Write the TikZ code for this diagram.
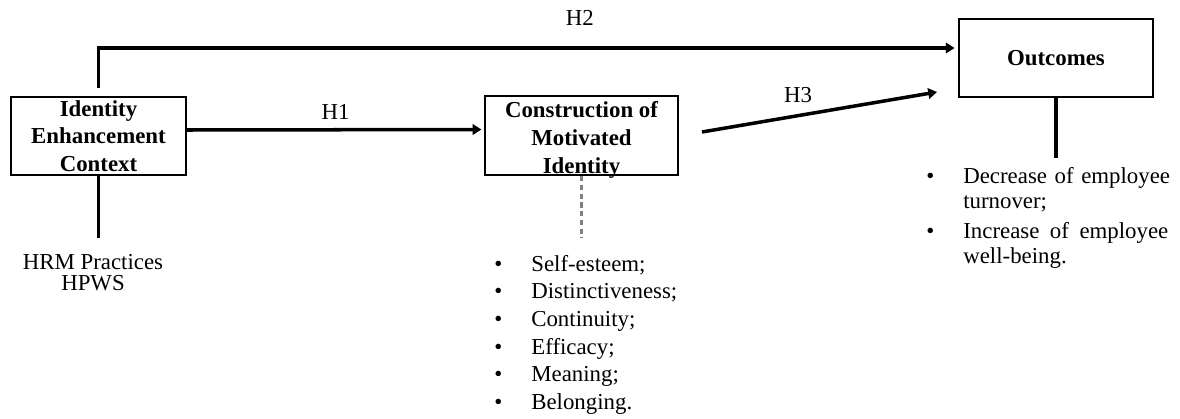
\documentclass[tikz,border=0pt]{standalone}
\usepackage{fontspec}
\setmainfont{Liberation Serif}
\usepackage{tikz}
\usetikzlibrary{arrows.meta,positioning}

\begin{document}
\begin{tikzpicture}[x=0.02cm,y=-0.02cm,
    box/.style={draw,line width=1.1pt,align=center,inner sep=0pt,
      font=\fontsize{13}{15.8}\selectfont\bfseries},
    lbl/.style={font=\fontsize{13}{15}\selectfont,inner sep=0pt},
    lst/.style={font=\fontsize{13}{15.7}\selectfont,align=left,inner xsep=0pt},
    arr/.style={line width=2pt,-{Triangle[length=5pt,width=6pt]}},
    ln/.style={line width=2pt}]
 \useasboundingbox (0,0) rectangle (1180,419);
 % the three boxes
 \node[box,minimum width=3.5cm,minimum height=1.56cm] (IEC) at (98.5,136)
  {Identity\\ Enhancement\\ Context};
 \node[box,minimum width=3.86cm,minimum height=1.58cm,text height=43pt,text depth=0pt] (CMI) at (581.5,135.5)
  {Construction of\\ Motivated\\ Identity};
 \node[box,minimum width=3.88cm,minimum height=1.56cm] (OUT) at (1056,58)
  {Outcomes};
 % texts under the boxes
 \node[lbl,anchor=north,inner ysep=9pt,align=center,font=\fontsize{13}{12}\selectfont] (HRM) at (93,238)
  {HRM Practices\\ HPWS};
 \node[lst,anchor=north west,inner ysep=9.6pt] (MOT) at (494,238)
  {\makebox[0.74cm][l]{\textbullet}Self-esteem;\\
   \makebox[0.74cm][l]{\textbullet}Distinctiveness;\\
   \makebox[0.74cm][l]{\textbullet}Continuity;\\
   \makebox[0.74cm][l]{\textbullet}Efficacy;\\
   \makebox[0.74cm][l]{\textbullet}Meaning;\\
   \makebox[0.74cm][l]{\textbullet}Belonging.};
 \node[lst,anchor=north west,inner ysep=5pt,text width=4.84cm,
   font=\fontsize{13}{14.2}\selectfont] (RES) at (926,158)
  {\mbox{\makebox[0.74cm][l]{\textbullet}Decrease of employee}\\
   \hspace*{0.74cm}turnover;\\[0.1cm]
   \makebox[0.74cm][l]{\textbullet}Increase\hfill of\hfill employee\\
   \hspace*{0.74cm}well-being.};
 \draw[ln] (IEC.south) -- (IEC.south |- HRM.north);
 \draw[line width=1.5pt,gray,densely dashed] (CMI.south) -- (CMI.south |- MOT.north);
 \draw[ln] (OUT.south) -- (OUT.south |- RES.north);
 % hypotheses
 \draw[arr,shorten >=1.5pt] ([yshift=0.12cm]IEC.east) -- node[lbl,above=0.16cm] (H1) {H1}
  ([yshift=0.12cm]CMI.west);
 \draw[arr,shorten >=2pt] ([yshift=0.16cm]IEC.north) |- node[lbl,pos=0.78,above=0.42cm] (H2) {H2}
  ([yshift=0.2cm]OUT.west);
 \coordinate (H3a) at (702,132);
 \coordinate (H3b) at (937,92);
 \draw[arr] (H3a) -- (H3b);
 \node[lbl] (H3) at (798,95) {H3};
\end{tikzpicture}
\end{document}
